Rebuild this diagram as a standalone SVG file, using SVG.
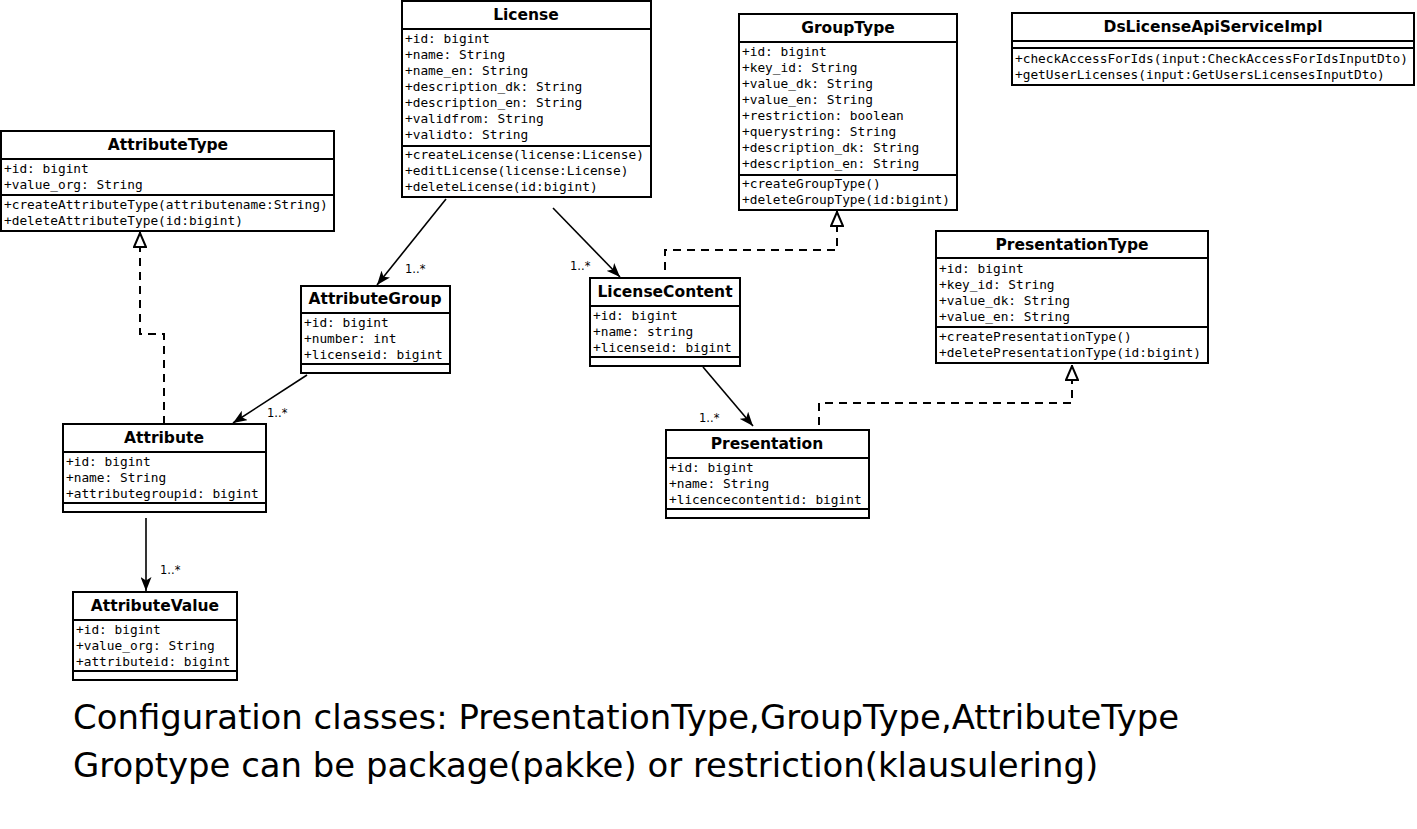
<svg xmlns="http://www.w3.org/2000/svg" width="1417" height="829" viewBox="0 0 1417 829">
<style>
.box{fill:#fff;stroke:#000;stroke-width:2}
.sep{stroke:#000;stroke-width:2}
.t{font-family:"DejaVu Sans",sans-serif;font-weight:bold;font-size:15.5px;text-anchor:middle}
.m{font-family:"DejaVu Sans Mono",monospace;font-size:12.8px}
.c{fill:none;stroke:#000;stroke-width:1.6}
.d{fill:none;stroke:#000;stroke-width:2;stroke-dasharray:8,6}
.lbl{font-family:"DejaVu Sans",sans-serif;font-size:11.5px;fill:#000}
.big{font-family:"DejaVu Sans",sans-serif;font-size:33.9px}
</style>
<defs>
<marker id="arr" viewBox="0 0 14 11" refX="14" refY="5.5" markerWidth="14" markerHeight="11" markerUnits="userSpaceOnUse" orient="auto">
<path d="M0,0 L14,5.5 L0,11 L3.5,5.5 z" fill="#000"/>
</marker>
<marker id="tri" viewBox="0 0 16 14" refX="16" refY="7" markerWidth="16" markerHeight="14" markerUnits="userSpaceOnUse" orient="auto">
<path d="M1,1 L15,7 L1,13 z" fill="#fff" stroke="#000" stroke-width="2"/>
</marker>
</defs>
<rect width="1417" height="829" fill="#fff"/>

<g id="connectors">
<line class="c" x1="446" y1="199" x2="377" y2="285" marker-end="url(#arr)"/>
<text class="lbl" x="405" y="273">1..*</text>
<line class="c" x1="553" y1="208" x2="620" y2="277" marker-end="url(#arr)"/>
<text class="lbl" x="570" y="270">1..*</text>
<line class="c" x1="307" y1="375" x2="233" y2="423" marker-end="url(#arr)"/>
<text class="lbl" x="267" y="417">1..*</text>
<line class="c" x1="146" y1="518" x2="146" y2="591" marker-end="url(#arr)"/>
<text class="lbl" x="160" y="574">1..*</text>
<line class="c" x1="703" y1="367" x2="753" y2="426" marker-end="url(#arr)"/>
<text class="lbl" x="699" y="422">1..*</text>
<polyline class="d" points="164,424 164,334 140,334 140,232" marker-end="url(#tri)"/>
<polyline class="d" points="665,270 665,250 837,250 837,211" marker-end="url(#tri)"/>
<polyline class="d" points="819,425 819,403 1072,403 1072,365" marker-end="url(#tri)"/>
</g>

<g id="License">
<rect class="box" x="402" y="1" width="249" height="196"/>
<line class="sep" x1="402" y1="29" x2="651" y2="29"/>
<line class="sep" x1="402" y1="146" x2="651" y2="146"/>
<text class="t" x="526" y="20">License</text>
<text class="m" x="405" y="43">+id: bigint</text>
<text class="m" x="405" y="59">+name: String</text>
<text class="m" x="405" y="75">+name_en: String</text>
<text class="m" x="405" y="91">+description_dk: String</text>
<text class="m" x="405" y="107">+description_en: String</text>
<text class="m" x="405" y="123">+validfrom: String</text>
<text class="m" x="405" y="139">+validto: String</text>
<text class="m" x="405" y="159">+createLicense(license:License)</text>
<text class="m" x="405" y="175">+editLicense(license:License)</text>
<text class="m" x="405" y="191">+deleteLicense(id:bigint)</text>
</g>

<g id="GroupType">
<rect class="box" x="739" y="14" width="218" height="196"/>
<line class="sep" x1="739" y1="42" x2="957" y2="42"/>
<line class="sep" x1="739" y1="175" x2="957" y2="175"/>
<text class="t" x="848" y="33">GroupType</text>
<text class="m" x="742" y="56">+id: bigint</text>
<text class="m" x="742" y="72">+key_id: String</text>
<text class="m" x="742" y="88">+value_dk: String</text>
<text class="m" x="742" y="104">+value_en: String</text>
<text class="m" x="742" y="120">+restriction: boolean</text>
<text class="m" x="742" y="136">+querystring: String</text>
<text class="m" x="742" y="152">+description_dk: String</text>
<text class="m" x="742" y="168">+description_en: String</text>
<text class="m" x="742" y="188">+createGroupType()</text>
<text class="m" x="742" y="204">+deleteGroupType(id:bigint)</text>
</g>

<g id="DsLicenseApiServiceImpl">
<rect class="box" x="1012" y="13" width="402" height="72"/>
<line class="sep" x1="1012" y1="41" x2="1414" y2="41"/>
<line class="sep" x1="1012" y1="48" x2="1414" y2="48"/>
<text class="t" x="1213" y="32">DsLicenseApiServiceImpl</text>
<text class="m" x="1015" y="63">+checkAccessForIds(input:CheckAccessForIdsInputDto)</text>
<text class="m" x="1015" y="79">+getUserLicenses(input:GetUsersLicensesInputDto)</text>
</g>

<g id="AttributeType">
<rect class="box" x="1" y="131" width="333" height="100"/>
<line class="sep" x1="1" y1="159" x2="334" y2="159"/>
<line class="sep" x1="1" y1="195" x2="334" y2="195"/>
<text class="t" x="168" y="150">AttributeType</text>
<text class="m" x="4" y="173">+id: bigint</text>
<text class="m" x="4" y="189">+value_org: String</text>
<text class="m" x="4" y="209">+createAttributeType(attributename:String)</text>
<text class="m" x="4" y="225">+deleteAttributeType(id:bigint)</text>
</g>

<g id="PresentationType">
<rect class="box" x="936" y="231" width="272" height="132"/>
<line class="sep" x1="936" y1="258" x2="1208" y2="258"/>
<line class="sep" x1="936" y1="327" x2="1208" y2="327"/>
<text class="t" x="1072" y="250">PresentationType</text>
<text class="m" x="939" y="273">+id: bigint</text>
<text class="m" x="939" y="289">+key_id: String</text>
<text class="m" x="939" y="305">+value_dk: String</text>
<text class="m" x="939" y="321">+value_en: String</text>
<text class="m" x="939" y="341">+createPresentationType()</text>
<text class="m" x="939" y="357">+deletePresentationType(id:bigint)</text>
</g>

<g id="AttributeGroup">
<rect class="box" x="301" y="286" width="149" height="87"/>
<line class="sep" x1="301" y1="313" x2="450" y2="313"/>
<line class="sep" x1="301" y1="364" x2="450" y2="364"/>
<text class="t" x="375" y="304">AttributeGroup</text>
<text class="m" x="304" y="327">+id: bigint</text>
<text class="m" x="304" y="343">+number: int</text>
<text class="m" x="304" y="359">+licenseid: bigint</text>
</g>

<g id="LicenseContent">
<rect class="box" x="590" y="278" width="150" height="88"/>
<line class="sep" x1="590" y1="306" x2="740" y2="306"/>
<line class="sep" x1="590" y1="357" x2="740" y2="357"/>
<text class="t" x="665" y="297">LicenseContent</text>
<text class="m" x="593" y="320">+id: bigint</text>
<text class="m" x="593" y="336">+name: string</text>
<text class="m" x="593" y="352">+licenseid: bigint</text>
</g>

<g id="Attribute">
<rect class="box" x="63" y="424" width="203" height="88"/>
<line class="sep" x1="63" y1="452" x2="266" y2="452"/>
<line class="sep" x1="63" y1="503" x2="266" y2="503"/>
<text class="t" x="164" y="443">Attribute</text>
<text class="m" x="66" y="466">+id: bigint</text>
<text class="m" x="66" y="482">+name: String</text>
<text class="m" x="66" y="498">+attributegroupid: bigint</text>
</g>

<g id="Presentation">
<rect class="box" x="666" y="430" width="203" height="88"/>
<line class="sep" x1="666" y1="458" x2="869" y2="458"/>
<line class="sep" x1="666" y1="509" x2="869" y2="509"/>
<text class="t" x="767" y="449">Presentation</text>
<text class="m" x="669" y="472">+id: bigint</text>
<text class="m" x="669" y="488">+name: String</text>
<text class="m" x="669" y="504">+licencecontentid: bigint</text>
</g>

<g id="AttributeValue">
<rect class="box" x="73" y="592" width="164" height="88"/>
<line class="sep" x1="73" y1="620" x2="237" y2="620"/>
<line class="sep" x1="73" y1="671" x2="237" y2="671"/>
<text class="t" x="155" y="611">AttributeValue</text>
<text class="m" x="76" y="634">+id: bigint</text>
<text class="m" x="76" y="650">+value_org: String</text>
<text class="m" x="76" y="666">+attributeid: bigint</text>
</g>

<g id="notes">
<text class="big" x="73" y="729">Configuration classes: PresentationType,GroupType,AttributeType</text>
<text class="big" x="73" y="777">Groptype can be package(pakke) or restriction(klausulering)</text>
</g>
</svg>
